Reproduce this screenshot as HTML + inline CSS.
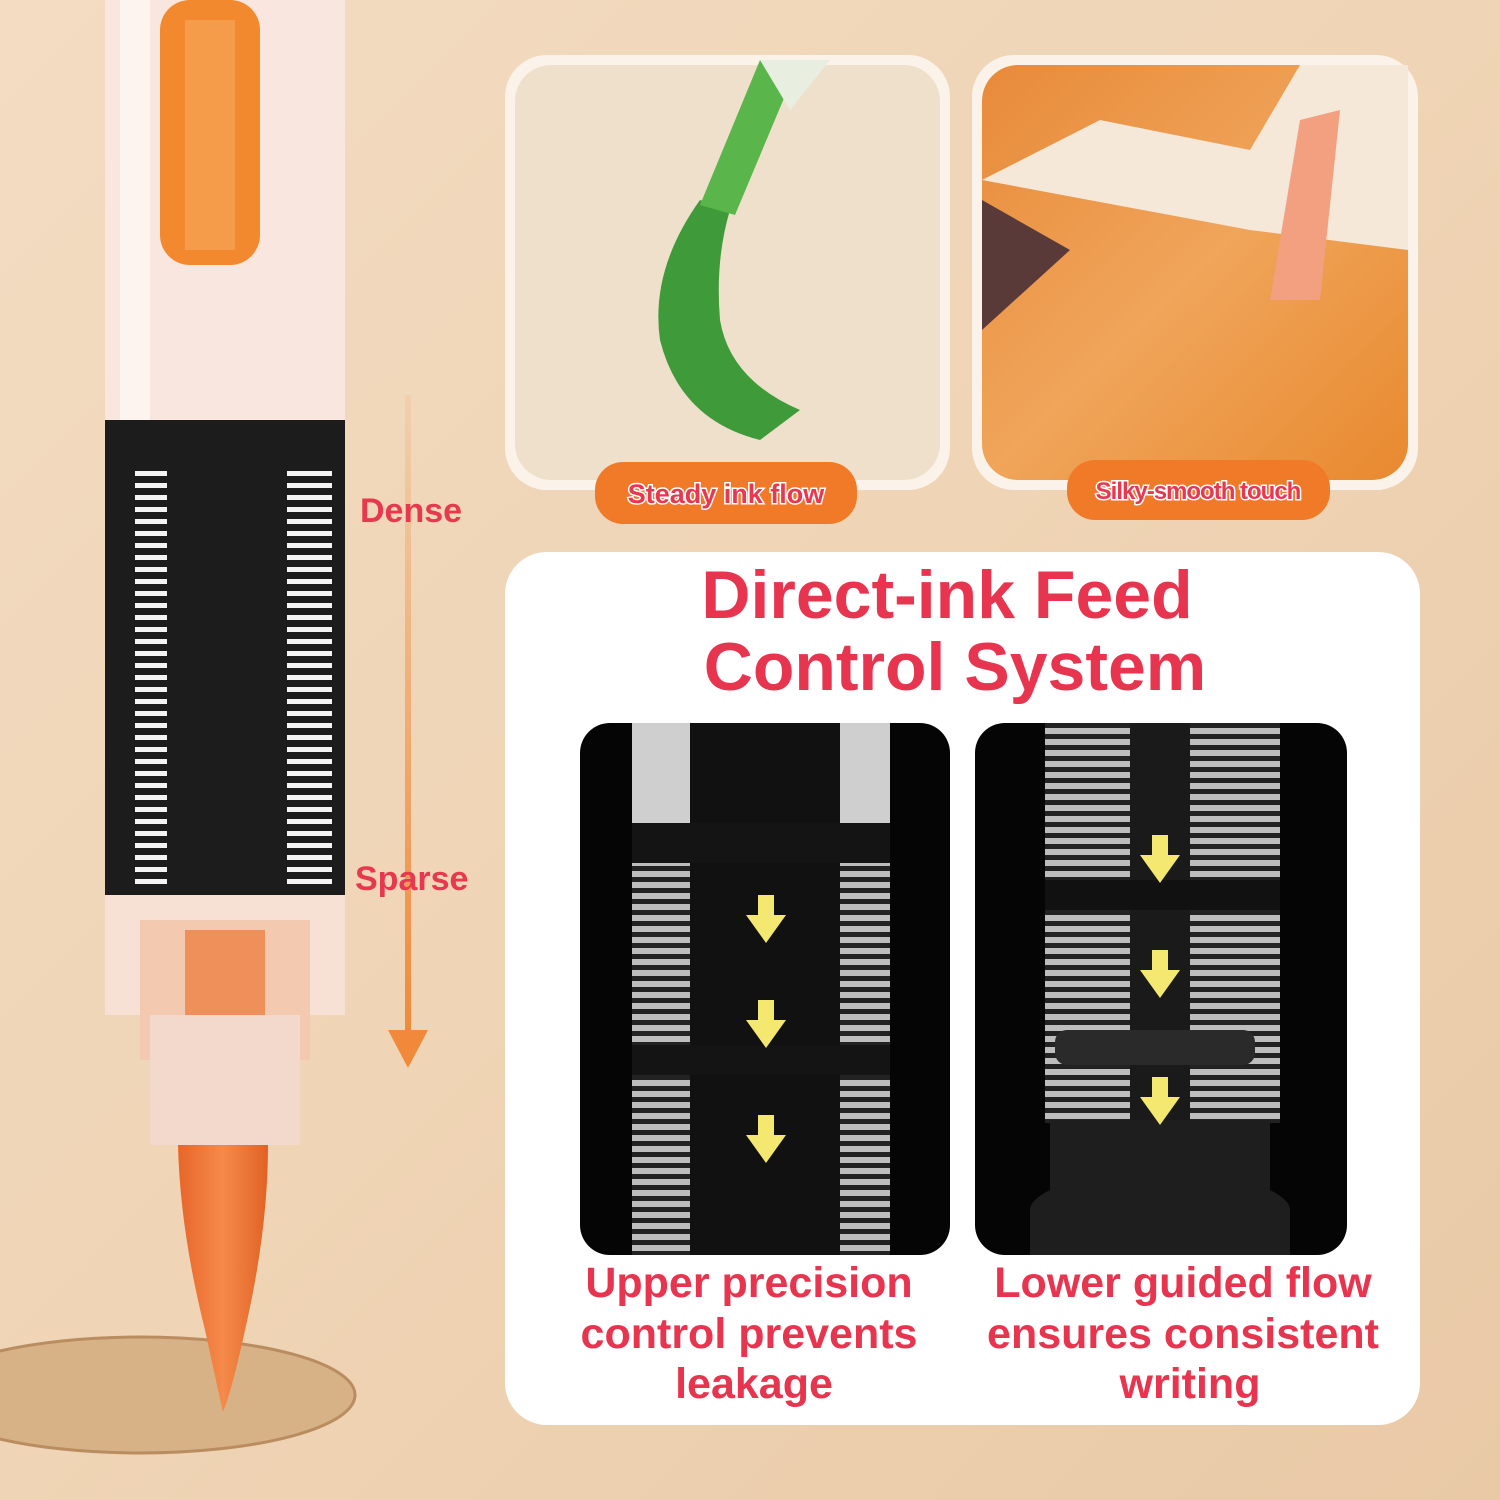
<!DOCTYPE html>
<html><head><meta charset="utf-8"><style>
html,body{margin:0;padding:0;width:1500px;height:1500px;overflow:hidden;background:#f0d6b8}
svg{display:block}
text{font-family:"Liberation Sans","DejaVu Sans",sans-serif;font-weight:bold}
</style></head><body>
<svg width="1500" height="1500" viewBox="0 0 1500 1500" xmlns="http://www.w3.org/2000/svg">
<defs>
<linearGradient id="bg" x1="0" y1="0" x2="1" y2="1">
<stop offset="0" stop-color="#f3dcc2"/><stop offset="0.5" stop-color="#efd4b5"/><stop offset="1" stop-color="#e9c9a6"/></linearGradient>
<pattern id="marks" width="40" height="12" patternUnits="userSpaceOnUse"><rect width="40" height="12" fill="#1c1c1c"/><rect x="0" y="3" width="40" height="5" fill="#f4f4f4"/></pattern>
<pattern id="stripes" width="40" height="11" patternUnits="userSpaceOnUse"><rect width="40" height="11" fill="#222"/><rect y="2" width="40" height="6" fill="#bdbdbd"/></pattern>
<linearGradient id="tip" x1="0" x2="1"><stop offset="0" stop-color="#e8662a"/><stop offset="0.5" stop-color="#f58a4a"/><stop offset="1" stop-color="#e06224"/></linearGradient>
<linearGradient id="paint" x1="0" y1="0" x2="1" y2="1"><stop offset="0" stop-color="#e88a3a"/><stop offset="0.5" stop-color="#f0a55a"/><stop offset="1" stop-color="#e8892f"/></linearGradient>
<linearGradient id="arr" x1="0" y1="0" x2="0" y2="1"><stop offset="0" stop-color="#f08a3a" stop-opacity="0.1"/><stop offset="1" stop-color="#f08a3a"/></linearGradient>
</defs>
<rect width="1500" height="1500" fill="url(#bg)"/>
<ellipse cx="140" cy="1395" rx="215" ry="58" fill="#d8b287" stroke="#b98d60" stroke-width="3"/>
<rect x="105" y="0" width="240" height="430" fill="#f8e6df"/>
<rect x="120" y="0" width="30" height="430" fill="#fdf4f0"/>
<rect x="160" y="0" width="100" height="265" rx="30" fill="#f2892f"/>
<rect x="185" y="20" width="50" height="230" fill="#f59c4a"/>
<rect x="105" y="420" width="240" height="475" fill="#1c1c1c"/>
<rect x="135" y="470" width="32" height="415" fill="url(#marks)"/>
<rect x="287" y="470" width="45" height="415" fill="url(#marks)"/>
<rect x="105" y="895" width="240" height="120" fill="#f7e2d6" opacity="0.95"/>
<rect x="140" y="920" width="170" height="140" fill="#f3c9b0"/>
<rect x="185" y="930" width="80" height="130" fill="#ef8f5a"/>
<rect x="150" y="1015" width="150" height="130" fill="#f2d9cb"/>
<path d="M178 1145 Q180 1230 205 1330 Q218 1390 223 1412 Q232 1390 245 1330 Q268 1230 268 1145 Z" fill="url(#tip)"/>
<rect x="405" y="395" width="6" height="640" fill="url(#arr)"/>
<path d="M388 1030 L428 1030 L408 1068 Z" fill="#f08a3a"/>
<text x="360" y="522" font-size="34" fill="#e8384f">Dense</text>
<text x="355" y="890" font-size="34" fill="#e8384f">Sparse</text>
<rect x="505" y="55" width="445" height="435" rx="42" fill="#fbf3ea"/>
<rect x="515" y="65" width="425" height="415" rx="36" fill="#efe0cc"/>
<path d="M700 200 Q650 270 660 340 Q680 420 760 440 L800 410 Q730 380 720 320 Q715 260 730 210 Z" fill="#3f9a3a"/>
<path d="M700 205 L760 60 L800 60 L735 215 Z" fill="#5ab54a"/>
<path d="M760 60 L830 60 L790 110 Z" fill="#e8eee0"/>
<rect x="595" y="462" width="262" height="62" rx="28" fill="#f07a28"/>
<text x="726" y="503" font-size="27" fill="#e8384f" text-anchor="middle" stroke="#fff" stroke-width="3" paint-order="stroke">Steady ink flow</text>
<rect x="972" y="55" width="446" height="435" rx="42" fill="#fbf3ea"/>
<rect x="982" y="65" width="426" height="415" rx="36" fill="url(#paint)"/>
<path d="M982 180 L1100 120 L1250 150 L1300 65 L1408 65 L1408 250 L1250 230 Z" fill="#f6e8d8"/>
<path d="M982 200 L1070 250 L982 330 Z" fill="#5a3a38"/>
<path d="M1270 300 L1300 120 L1340 110 L1320 300 Z" fill="#f2a080"/>
<rect x="1067" y="460" width="263" height="60" rx="28" fill="#f07a28"/>
<text x="1198" y="499" font-size="24" fill="#e8384f" text-anchor="middle" stroke="#fff" stroke-width="3" paint-order="stroke" letter-spacing="-1">Silky-smooth touch</text>
<rect x="505" y="552" width="915" height="873" rx="42" fill="#ffffff"/>
<text x="947" y="618" font-size="68" fill="#e8354f" text-anchor="middle">Direct-ink Feed</text>
<text x="955" y="690" font-size="68" fill="#e8354f" text-anchor="middle">Control System</text>
<rect x="580" y="723" width="370" height="532" rx="30" fill="#050505"/>
<rect x="632" y="723" width="258" height="532" fill="#cfcfcf"/>
<rect x="632" y="830" width="258" height="425" fill="url(#stripes)"/>
<rect x="690" y="723" width="150" height="532" fill="#111"/>
<rect x="632" y="823" width="258" height="40" fill="#141414"/>
<rect x="632" y="1045" width="258" height="30" fill="#141414"/>
<g fill="#f5e870"><path d="M758 895h16v20h12l-20 28-20-28h12z"/><path d="M758 1000h16v20h12l-20 28-20-28h12z"/><path d="M758 1115h16v20h12l-20 28-20-28h12z"/></g>
<rect x="975" y="723" width="372" height="532" rx="30" fill="#050505"/>
<rect x="1045" y="723" width="235" height="400" fill="url(#stripes)"/>
<rect x="1130" y="723" width="60" height="400" fill="#1a1a1a"/>
<rect x="1045" y="880" width="235" height="30" fill="#111"/>
<rect x="1055" y="1030" width="200" height="35" rx="12" fill="#2a2a2a"/>
<path d="M1050 1120 L1270 1120 L1270 1190 Q1290 1200 1290 1210 L1290 1255 L1030 1255 L1030 1210 Q1030 1200 1050 1190 Z" fill="#1e1e1e"/>
<g fill="#f5e870"><path d="M1152 835h16v20h12l-20 28-20-28h12z"/><path d="M1152 950h16v20h12l-20 28-20-28h12z"/><path d="M1152 1077h16v20h12l-20 28-20-28h12z"/></g>
<g font-size="43" fill="#e8354f" text-anchor="middle">
<text x="749" y="1297">Upper precision</text>
<text x="749" y="1348">control prevents</text>
<text x="754" y="1398">leakage</text>
<text x="1183" y="1297">Lower guided flow</text>
<text x="1183" y="1348">ensures consistent</text>
<text x="1190" y="1398">writing</text>
</g>
</svg>
</body></html>
